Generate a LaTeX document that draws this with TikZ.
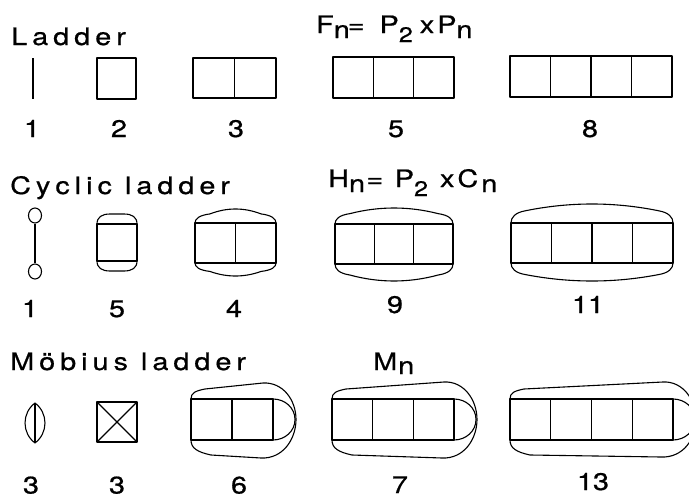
\documentclass[tikz,border=0pt]{standalone}
\usepackage{fontspec}
\setmainfont[FakeStretch=1.2,FakeBold=0.7]{TeX Gyre Heros}
\usetikzlibrary{shapes.geometric}
\tikzset{
  gline/.style={line width=1.1pt, line join=round},
  txt/.style={inner sep=0pt, font=\fontsize{24}{26}\selectfont},
  head/.style={inner sep=0pt, font=\fontsize{24}{26}\selectfont, anchor=base west},
  num/.style={inner sep=0pt, font=\fontsize{24}{26}\selectfont, anchor=base},
  vtx/.style={ellipse, draw, line width=1.1pt, minimum width=13pt, minimum height=15pt, inner sep=0pt}
}
% letter-spaced word
\def\spaceout#1{\spaceoutA#1\relax}
\def\spaceoutA#1{\ifx#1\relax\else#1\kern5pt\expandafter\spaceoutA\fi}
% ladder box: x0,y0,x1,y1,n (n>=2)
\newcommand\ladderbox[5]{%
  \draw[gline] (#1,#2) rectangle (#3,#4);
  \foreach \k in {2,...,#5}{\draw[gline] ({#1+(\k-1)*(#3-#1)/#5},#2) -- ({#1+(\k-1)*(#3-#1)/#5},#4);}
}
% cyclic cap: x0,x1,ychord,ypeak
\newcommand\cyccap[4]{%
  \draw[gline] (#1,#3) .. controls (#1,{#3+0.3*(#4-#3)}) and ({#1+4},{#3+0.55*(#4-#3)}) .. ({#1+15},{#3+0.65*(#4-#3)})
    .. controls ({#1+15+(#2-#1-30)/3},{#3+1.117*(#4-#3)}) and ({#2-15-(#2-#1-30)/3},{#3+1.117*(#4-#3)}) .. ({#2-15},{#3+0.65*(#4-#3)})
    .. controls ({#2-4},{#3+0.55*(#4-#3)}) and (#2,{#3+0.3*(#4-#3)}) .. (#2,#3);
}
% moebius outer and inner curves: x0,x1,ytop,ybot  (box from y=399 to 440)
\newcommand\mobius[4]{%
  \draw[gline] (#1,399) .. controls (#1,393) and ({#1+4},391) .. ({#1+14},389) -- ({#2-10},#3)
    .. controls ({#2+10},{#3-1}) and ({#2+23},400) .. ({#2+23},419.5)
    .. controls ({#2+23},439) and ({#2+10},{#4+1}) .. ({#2-12},#4)
    -- ({#1+20},455) .. controls ({#1+6},452) and (#1,448) .. (#1,440);
  \draw[gline] (#2,399) .. controls ({#2+12},399) and ({#2+22},408) .. ({#2+22},419.5)
    .. controls ({#2+22},431) and ({#2+12},440) .. (#2,440);
}
\begin{document}
\begin{tikzpicture}[x=1pt,y=-1pt]
\useasboundingbox (0,0) rectangle (689,498);
\clip (0,0) rectangle (689,498);
% ---------- Row 1: Ladder ----------
\node[head] (tLad) at (11,45) {\spaceout{Ladder}};
\node[txt, anchor=base west] (fF) at (316,33) {F\lower5pt\hbox{n}\kern-2pt=\kern15pt P\lower9pt\hbox{\fontsize{21}{21}\selectfont 2}\kern7pt x\kern3pt P\lower5pt\hbox{n}};
\draw[gline] (33,58) -- (33,99);
\draw[gline] (97,58) rectangle (136,99);
\ladderbox{193}{58}{276}{98}{2}
\ladderbox{333}{57}{454}{98}{3}
\ladderbox{510}{56}{672}{97}{4}
\node[num] (n11) at (32,137) {1};
\node[num] (n12) at (119,137) {2};
\node[num] (n13) at (236,137) {3};
\node[num] (n14) at (396,137) {5};
\node[num] (n15) at (590,137) {8};
% ---------- Row 2: Cyclic ladder ----------
\node[head] (tCyc) at (10,194) {\spaceout{Cyclic}\ \spaceout{ladder}};
\node[txt, anchor=base west] (fH) at (328,187) {H\lower5pt\hbox{n}\kern1.5pt=\kern11.5pt P\lower9pt\hbox{\fontsize{21}{21}\selectfont 2}\kern12pt x\kern3pt C\kern3pt\lower5pt\hbox{n}};
\node[vtx] (va) at (35,215.5) {};
\node[vtx] (vb) at (35,271.5) {};
\draw[gline] (va) -- (vb);
% n=2
\draw[gline] (97,224) rectangle (137,261);
\draw[gline] (97,224) .. controls (97,217) and (102,214) .. (110,214) -- (124,214) .. controls (132,214) and (137,217) .. (137,224);
\draw[gline] (97,261) .. controls (97,268) and (102,271) .. (110,271) -- (124,271) .. controls (132,271) and (137,268) .. (137,261);
% n=3
\ladderbox{195}{223}{276}{263}{2}
\cyccap{195}{276}{223}{209}
\cyccap{195}{276}{263}{276}
% n=4
\ladderbox{335}{224}{453}{264}{3}
\cyccap{335}{453}{224}{208}
\cyccap{335}{453}{264}{281}
% n=5
\ladderbox{511}{223}{673}{263}{4}
\cyccap{511}{673}{223}{204}
\cyccap{511}{673}{263}{281}
\node[num] (n21) at (30,317) {1};
\node[num] (n22) at (117,317) {5};
\node[num] (n23) at (234,317) {4};
\node[num] (n24) at (395,313) {9};
\node[num] (n25) at (588,313) {11};
% ---------- Row 3: Moebius ladder ----------
\node[head] (tMob) at (10,370) {\spaceout{Möbius}\ \spaceout{ladder}};
\node[txt, anchor=base west] (fM) at (373,370) {M\kern1pt\lower4pt\hbox{n}};
\draw[gline] (35,403) .. controls (21.7,413) and (21.7,433) .. (35,443) .. controls (48.3,433) and (48.3,413) .. (35,403);
\draw[gline] (35,403) -- (35,443);
\draw[gline] (97,402) rectangle (137,442);
\draw[gline] (97,402) -- (137,442);
\draw[gline] (137,402) -- (97,442);
\ladderbox{191}{399}{273}{440}{2}
\mobius{191}{273}{383}{458}
\ladderbox{332}{399}{454}{440}{3}
\mobius{332}{454}{382}{458}
\ladderbox{510}{399}{673}{440}{4}
\mobius{510}{673}{382}{457}
\node[num] (n31) at (31,493.5) {3};
\node[num] (n32) at (117,493.5) {3};
\node[num] (n33) at (239,493.5) {6};
\node[num] (n34) at (400,493) {7};
\node[num] (n35) at (593,490) {13};
\end{tikzpicture}
\end{document}
